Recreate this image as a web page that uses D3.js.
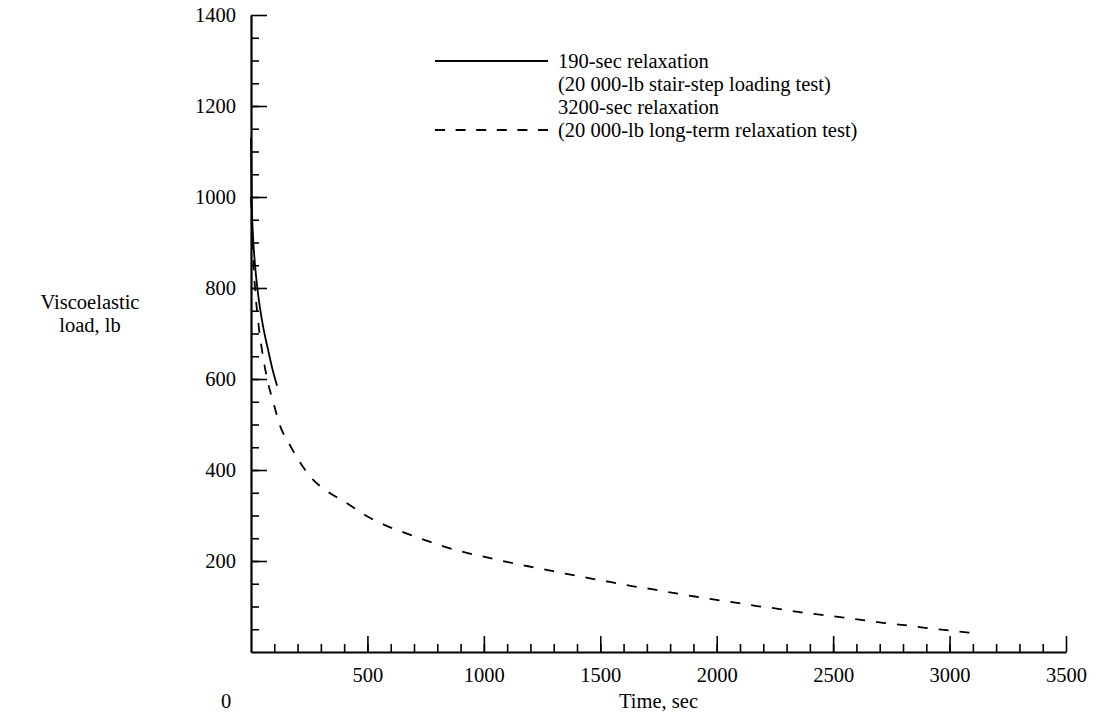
<!DOCTYPE html>
<html>
<head>
<meta charset="utf-8">
<script src="https://cdn.jsdelivr.net/npm/d3@7"></script>
<style>
  html, body { margin: 0; padding: 0; background: #fff; }
  svg text { font-family: "Liberation Serif", "Times New Roman", serif; fill: #000; }
</style>
</head>
<body>
<svg id="chart" width="1104" height="717"></svg>
<script>
// Load relaxation after holding, short and long test
const shortTime = [0, 3, 8, 15, 26, 39, 52, 73, 92, 112];
const shortLoad = [1130, 1000, 920, 865, 805, 755, 715, 665, 622, 585];

const longTime = [0, 8, 18, 30, 52, 73, 95, 125, 167, 210, 264, 331, 412, 489, 575, 661, 747, 833, 927, 1013, 1099, 1185, 1275, 1361, 1456, 1541, 1636, 1722, 1812, 1906, 1992, 2087, 2172, 2263, 2349, 2443, 2538, 2628, 2714, 2808, 2894, 2988, 3096];
const longLoad = [1000, 880, 795, 730, 648, 592, 550, 497, 455, 417, 380, 352, 327, 301, 279, 262, 246, 231, 218, 208, 198, 189, 180, 171, 162, 154, 145, 138, 130, 122, 115, 108, 101, 95, 88, 82, 76, 70, 64, 59, 53, 48, 42];

const xTicks = [500, 1000, 1500, 2000, 2500, 3000, 3500];
const yTicks = [200, 400, 600, 800, 1000, 1200, 1400];

const legendLines = [
  "190-sec relaxation",
  "(20 000-lb stair-step loading test)",
  "3200-sec relaxation",
  "(20 000-lb long-term relaxation test)"
];

const svg = d3.select("#chart");
const x = d3.scaleLinear().domain([0, 3500]).range([251, 1066]);
const y = d3.scaleLinear().domain([0, 1400]).range([652, 15]);

const fontSize = 20.5;

// minor ticks
svg.append("g")
  .attr("transform", `translate(0,${y(0)})`)
  .call(d3.axisBottom(x).tickValues(d3.range(100, 3500, 100)).tickSize(-8).tickSizeOuter(0).tickFormat(""))
  .call(g => g.select(".domain").remove());
svg.append("g")
  .attr("transform", `translate(${x(0)},0)`)
  .call(d3.axisLeft(y).tickValues(d3.range(50, 1400, 50)).tickSize(-8).tickSizeOuter(0).tickFormat(""))
  .call(g => g.select(".domain").remove());

// major axes
const xAxis = svg.append("g")
  .attr("transform", `translate(0,${y(0)})`)
  .call(d3.axisBottom(x).tickValues(xTicks).tickSize(-16).tickSizeOuter(0).tickPadding(15).tickFormat(d3.format("d")));
const yAxis = svg.append("g")
  .attr("transform", `translate(${x(0)},0)`)
  .call(d3.axisLeft(y).tickValues(yTicks).tickSize(-16).tickSizeOuter(0).tickPadding(15).tickFormat(d3.format("d")));

[xAxis, yAxis].forEach(g => {
  g.selectAll("text").style("font-size", fontSize + "px").style("font-family", '"Liberation Serif", serif').attr("fill", "#000");
  g.select(".domain").attr("stroke", "#000").attr("stroke-width", 2.2);
});
svg.selectAll("g line").attr("stroke", "#000").attr("stroke-width", 1.6);

// origin label
svg.append("text")
  .attr("x", x(0) - 25).attr("y", y(0) + 56)
  .attr("text-anchor", "middle")
  .style("font-size", fontSize + "px")
  .text("0");

// axis titles
svg.append("text")
  .attr("x", (x(0) + x(3500)) / 2).attr("y", y(0) + 56)
  .attr("text-anchor", "middle")
  .style("font-size", fontSize + "px")
  .text("Time, sec");

const yTitle = svg.append("text")
  .attr("text-anchor", "middle")
  .style("font-size", fontSize + "px");
yTitle.append("tspan").attr("x", 90).attr("y", 309).text("Viscoelastic");
yTitle.append("tspan").attr("x", 90).attr("y", 332).text("load, lb");

// curves
const line = d3.line().x(d => x(d[0])).y(d => y(d[1])).curve(d3.curveMonotoneX);

svg.append("path")
  .datum(longTime.map((t, i) => [t, longLoad[i]]))
  .attr("d", line)
  .attr("fill", "none").attr("stroke", "#000").attr("stroke-width", 1.8)
  .attr("stroke-dasharray", "10,11");

svg.append("path")
  .datum(shortTime.map((t, i) => [t, shortLoad[i]]))
  .attr("d", line)
  .attr("fill", "none").attr("stroke", "#000").attr("stroke-width", 1.8);

// legend
const lg = svg.append("g");
const rowY = [61, 84, 107, 130];
legendLines.forEach((s, i) => {
  lg.append("text")
    .attr("x", 558).attr("y", rowY[i]).attr("dy", "0.33em")
    .style("font-size", fontSize + "px")
    .text(s);
});
lg.append("line").attr("x1", 435).attr("x2", 548).attr("y1", rowY[0]).attr("y2", rowY[0])
  .attr("stroke", "#000").attr("stroke-width", 1.8);
lg.append("line").attr("x1", 435).attr("x2", 548).attr("y1", rowY[3]).attr("y2", rowY[3])
  .attr("stroke", "#000").attr("stroke-width", 1.8).attr("stroke-dasharray", "10,10.6");
</script>
</body>
</html>
